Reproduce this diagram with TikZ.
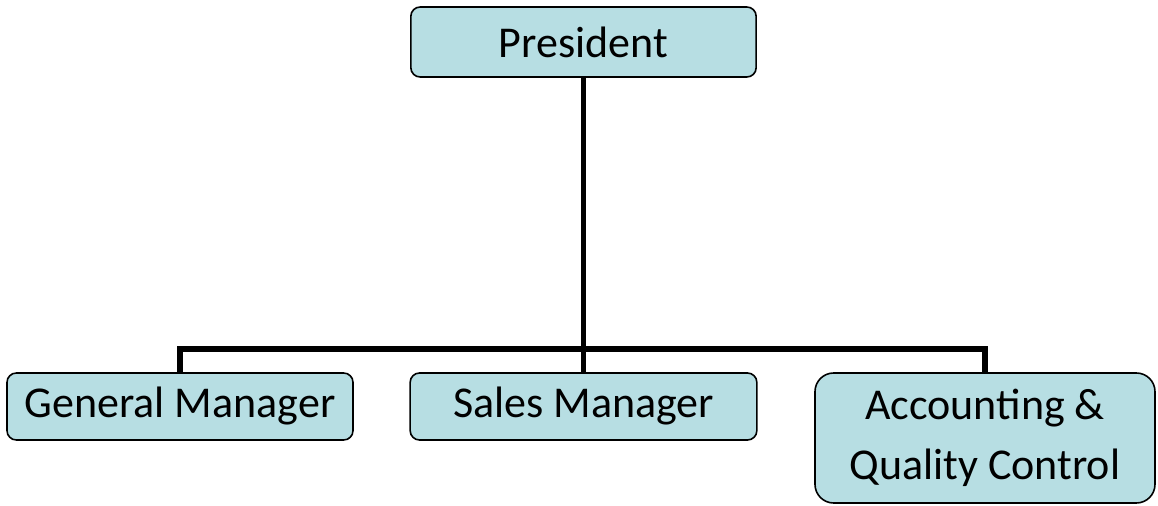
\documentclass[tikz,border=0pt]{standalone}
\usepackage{fontspec}
\setmainfont{Carlito}
\usetikzlibrary{positioning}
\definecolor{boxfill}{HTML}{B7DEE3}

\begin{document}
\begin{tikzpicture}[x=0.75pt, y=-0.75pt]
    % Define styles
    \tikzstyle{post} = [rectangle, draw, fill=boxfill, line width=1.2pt, rounded corners=7pt, inner sep=0pt, font=\fontsize{33}{45}\selectfont, align=center]
    \tikzstyle{link} = [line width=3.8pt]

    \useasboundingbox (0,0) rectangle (1158,506);

    % Draw the president
    \node[post, minimum width=259pt, minimum height=52.5pt] (pres) at (583.5,42) {President};

    % Draw the managers
    \node[post, minimum width=259.5pt, minimum height=50.25pt] (gm) at (180,406.5) {General Manager};
    \node[post, minimum width=260pt, minimum height=50.25pt] (sales) at (583.5,406.5) {Sales Manager};
    \node[post, minimum width=255pt, minimum height=97.5pt, rounded corners=14pt] (acc) at (985,438) {Accounting \&\\Quality Control};

    % Draw the connecting lines
    \coordinate (split) at (583.5,349);
    \draw[link] (pres.south) -- (sales.north);
    \draw[link] (gm.north) |- (split) -| (acc.north);
\end{tikzpicture}
\end{document}
